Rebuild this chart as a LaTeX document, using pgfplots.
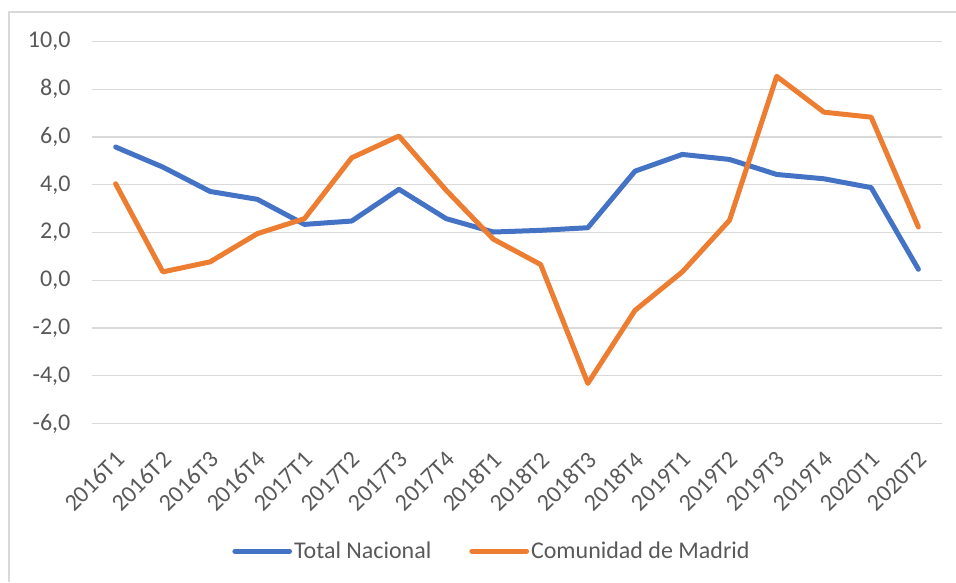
\documentclass[border=0pt]{standalone}
\usepackage{pgfplots}
\pgfplotsset{compat=1.18}
\usepackage{fontspec}
\setmainfont{Carlito}
\definecolor{cblue}{HTML}{4472C4}
\definecolor{corange}{HTML}{ED7D31}
\definecolor{cgrid}{HTML}{D9D9D9}
\definecolor{ctext}{HTML}{595959}
\begin{document}
\begin{tikzpicture}
\useasboundingbox (0,0) rectangle (717pt,436.5pt);
\draw[cgrid, line width=1.2pt] (6.75pt,0) -- (6.75pt,427.5pt) -- (717pt,427.5pt);
\begin{axis}[
  at={(69pt,118.875pt)}, anchor=south west,
  scale only axis, width=637.5pt, height=286.5pt,
  xmin=-0.5, xmax=17.5, ymin=-6, ymax=10,
  axis line style={draw=none},
  tick style={draw=none},
  ymajorgrids, grid style={cgrid, line width=1.1pt},
  ytick={-6,-4,-2,0,2,4,6,8,10},
  yticklabels={{-6,0},{-4,0},{-2,0},{0,0},{2,0},{4,0},{6,0},{8,0},{10,0}},
  xtick={0,...,17},
  xticklabels={2016T1,2016T2,2016T3,2016T4,2017T1,2017T2,2017T3,2017T4,2018T1,2018T2,2018T3,2018T4,2019T1,2019T2,2019T3,2019T4,2020T1,2020T2},
  ticklabel style={font=\fontsize{18}{21}\selectfont, text=ctext, inner sep=0pt},
  yticklabel style={anchor=east, xshift=-16pt},
  xticklabel style={xshift=3.4pt, yshift=-24pt, rotate=45, anchor=east},
  clip=false,
  legend columns=2,
  legend style={at={(0.4706,-0.334)}, anchor=center, draw=none, fill=none,
    font=\fontsize{18}{21}\selectfont, text=ctext,
    /tikz/every even column/.append style={column sep=27pt},
    nodes={inner sep=1.5pt}},
  legend image code/.code={\draw[#1, line width=3.75pt] (0pt,0pt) -- (41pt,0pt);},
]
\addplot[cblue, line width=3.75pt, line join=round, line cap=round] coordinates {
(0,5.58)(1,4.74)(2,3.72)(3,3.39)(4,2.34)(5,2.48)(6,3.81)(7,2.58)(8,2.02)
(9,2.09)(10,2.20)(11,4.57)(12,5.27)(13,5.06)(14,4.43)(15,4.25)(16,3.88)(17,0.46)};
\addlegendentry{Total Nacional}
\addplot[corange, line width=3.75pt, line join=round, line cap=round] coordinates {
(0,4.04)(1,0.35)(2,0.77)(3,1.95)(4,2.58)(5,5.13)(6,6.04)(7,3.77)(8,1.72)
(9,0.66)(10,-4.32)(11,-1.26)(12,0.35)(13,2.51)(14,8.54)(15,7.04)(16,6.83)(17,2.23)};
\addlegendentry{Comunidad de Madrid}
\end{axis}
\end{tikzpicture}
\end{document}
